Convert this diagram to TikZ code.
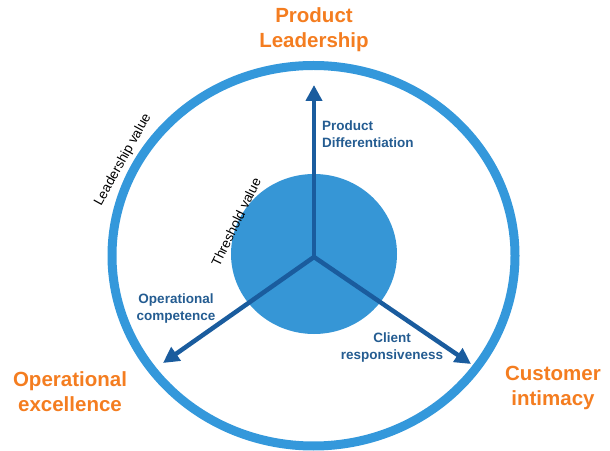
\documentclass[tikz,border=0pt]{standalone}
\usepackage{fontspec}
\setmainfont{Liberation Sans}
\usetikzlibrary{arrows.meta}

\definecolor{ringblue}{RGB}{52,152,219}
\definecolor{coreblue}{RGB}{54,150,214}
\definecolor{axisblue}{RGB}{26,92,158}
\definecolor{labelblue}{RGB}{36,92,145}
\definecolor{discorange}{RGB}{244,125,32}

\tikzset{
  axis/.style={draw=axisblue, line width=4.5pt, -{Triangle[length=16pt,width=16pt]}},
  discipline/.style={text=discorange, font=\bfseries\fontsize{20.5}{25}\selectfont, align=center, inner sep=0pt},
  axislabel/.style={text=labelblue, font=\bfseries\fontsize{13.5}{17.5}\selectfont, inner sep=0pt},
  valuelabel/.style={font=\fontsize{13.5}{16}\selectfont, inner sep=0pt}
}

\begin{document}
\begin{tikzpicture}[x=1pt, y=1pt]
  \useasboundingbox (0,0) rectangle (610,450);

  % outer ring and inner core
  \draw[ringblue, line width=9pt] (313.5,194.25) ellipse [x radius=201.5, y radius=190.25];
  \fill[coreblue] (314,196) ellipse [x radius=83, y radius=80];

  % the three axes
  \coordinate (o) at (314,193);
  \coordinate (prod) at (314,365);
  \coordinate (oper) at (163,87);
  \coordinate (cust) at (471,86);
  \draw[axis] (o) -- (prod);
  \draw[axis] (o) -- (oper);
  \draw[axis] (o) -- (cust);

  \node[axislabel, anchor=west, align=left] (diff) at (322,316) {Product\\Differentiation};
  \node[axislabel, align=center] (comp) at (176,141.5) {Operational\\competence};
  \node[axislabel, align=center] (resp) at (392,102.5) {Client\\responsiveness};

  \node[valuelabel, rotate=61] (lead) at (123,290) {Leadership value};
  \node[valuelabel, rotate=64] (thresh) at (236,228) {Threshold value};

  % value disciplines
  \node[discipline] (pl) at (314,420) {Product\\Leadership};
  \node[discipline] (oe) at (70,58) {Operational\\excellence};
  \node[discipline] (ci) at (553,62) {Customer\\intimacy};
\end{tikzpicture}
\end{document}
